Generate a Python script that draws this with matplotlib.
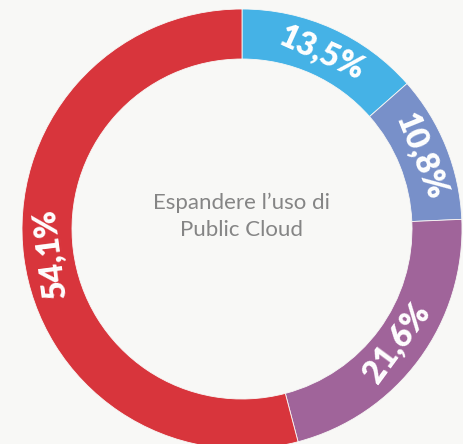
import matplotlib.pyplot as plt
import numpy as np

# slices, clockwise from 12 o'clock
labels = ['13,5%', '10,8%', '21,6%', '54,1%']
values = [13.5, 10.8, 21.6, 54.1]
colors = ['#45b2e6', '#7890c9', '#a0649a', '#d8353c']
center_text = 'Espandere l\u2019uso di\nPublic Cloud'

W, H = 464, 444
CX, CY = 242, H - 229
R_OUT = 220
WIDTH = 50

fig = plt.figure(figsize=(W / 100, H / 100), dpi=100, facecolor='#f8f8f6')
ax = fig.add_axes([0, 0, 1, 1])

wedges, _ = ax.pie(values, colors=colors, startangle=90, counterclock=False,
                   center=(CX, CY), radius=R_OUT,
                   wedgeprops=dict(width=WIDTH, edgecolor='#f8f8f6', linewidth=0.6))
# pie() resets the limits, so set them afterwards
ax.set_xlim(0, W)
ax.set_ylim(0, H)
ax.set_aspect('equal')
ax.axis('off')

r_lab = R_OUT - WIDTH / 2 - 2
for w, lab in zip(wedges, labels):
    mid = (w.theta1 + w.theta2) / 2
    a = np.deg2rad(mid)
    x = CX + r_lab * np.cos(a)
    y = CY + r_lab * np.sin(a)
    # text along the ring, readable side up
    rot = mid - 90
    if np.sin(a) < 0 and np.cos(a) > 0:
        rot = mid + 90
    ax.text(x, y, lab, rotation=rot, rotation_mode='anchor', ha='center', va='center',
            color='white', fontsize=23, fontweight='heavy', family='Lato')

ax.text(CX, CY + 13, center_text, ha='center', va='center', color='#858585',
        fontsize=16, family='Lato', fontweight='normal', linespacing=1.45)

plt.savefig('out.png', dpi=100, facecolor=fig.get_facecolor())
